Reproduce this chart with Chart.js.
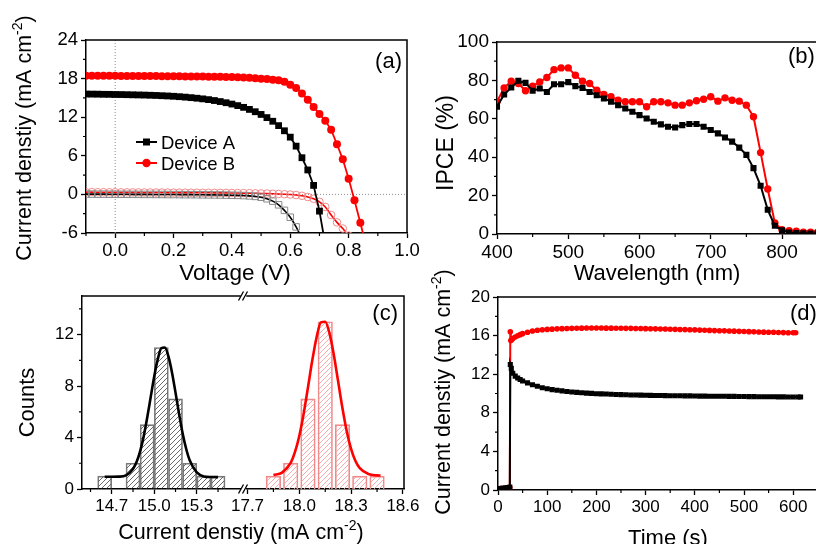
<!DOCTYPE html>
<html>
<head>
<meta charset="utf-8">
<title>Device A / Device B</title>
<script src="https://cdn.jsdelivr.net/npm/chart.js@4.4.1/dist/chart.umd.min.js"></script>
<style>
html, body { margin:0; padding:0; width:816px; height:544px; overflow:hidden; background:#fff; position:relative; }
canvas { position:absolute; display:block; }
#ca { left:0; top:0; }
#cb { left:420px; top:0; }
#cc1 { left:0; top:280px; }
#cc2 { left:213px; top:280px; }
#cd { left:420px; top:250px; }
</style>
</head>
<body>
<canvas id="ca" width="430" height="285"></canvas>
<canvas id="cb" width="480" height="285"></canvas>
<canvas id="cc1" width="420" height="264"></canvas>
<canvas id="cc2" width="227" height="264"></canvas>
<canvas id="cd" width="480" height="294"></canvas>
<script>
// ================= DATA =================
const seriesNames = ['Device A', 'Device B'];

// (a) J-V curves
const jvVoltA = [-0.10,-0.08,-0.06,-0.04,-0.02,0.00,0.02,0.04,0.06,0.08,0.10,0.12,0.14,0.16,0.18,0.20,0.22,0.24,0.26,0.28,0.30,0.32,0.34,0.36,0.38,0.40,0.42,0.44,0.46,0.48,0.50,0.52,0.54,0.56,0.58,0.60,0.62,0.64,0.66,0.68,0.70,0.72];
const jvCurA  = [15.60,15.59,15.58,15.56,15.55,15.53,15.52,15.50,15.48,15.46,15.44,15.41,15.38,15.34,15.30,15.25,15.19,15.12,15.04,14.95,14.85,14.73,14.59,14.43,14.25,14.04,13.80,13.53,13.21,12.85,12.43,11.94,11.37,10.69,9.89,8.90,7.50,5.70,3.80,1.40,-2.60,-7.80];
const jvVoltB = [-0.10,-0.08,-0.06,-0.04,-0.02,0.00,0.02,0.04,0.06,0.08,0.10,0.12,0.14,0.16,0.18,0.20,0.22,0.24,0.26,0.28,0.30,0.32,0.34,0.36,0.38,0.40,0.42,0.44,0.46,0.48,0.50,0.52,0.54,0.56,0.58,0.60,0.62,0.64,0.66,0.68,0.70,0.72,0.74,0.76,0.78,0.80,0.82,0.84,0.86];
const jvCurB  = [18.45,18.45,18.44,18.44,18.43,18.43,18.42,18.42,18.41,18.41,18.40,18.40,18.39,18.38,18.37,18.36,18.35,18.34,18.33,18.32,18.31,18.30,18.29,18.28,18.26,18.24,18.21,18.17,18.12,18.06,17.99,17.92,17.84,17.74,17.50,17.05,16.55,15.70,14.70,13.60,12.50,11.45,10.05,7.80,5.45,2.45,-0.90,-4.40,-8.00];
const darkVoltA = [-0.10,-0.08,-0.06,-0.04,-0.02,0.00,0.02,0.04,0.06,0.08,0.10,0.12,0.14,0.16,0.18,0.20,0.22,0.24,0.26,0.28,0.30,0.32,0.34,0.36,0.38,0.40,0.42,0.44,0.46,0.48,0.50,0.52,0.54,0.56,0.58,0.60,0.62,0.64];
const darkCurA  = [0.05,0.05,0.04,0.04,0.03,0.03,0.02,0.02,0.01,0.01,0.00,0.00,-0.01,-0.01,-0.02,-0.02,-0.03,-0.04,-0.04,-0.05,-0.06,-0.07,-0.08,-0.09,-0.11,-0.13,-0.15,-0.18,-0.23,-0.31,-0.44,-0.68,-1.05,-1.62,-2.48,-3.55,-5.05,-6.85];
const darkVoltB = [-0.10,-0.08,-0.06,-0.04,-0.02,0.00,0.02,0.04,0.06,0.08,0.10,0.12,0.14,0.16,0.18,0.20,0.22,0.24,0.26,0.28,0.30,0.32,0.34,0.36,0.38,0.40,0.42,0.44,0.46,0.48,0.50,0.52,0.54,0.56,0.58,0.60,0.62,0.64,0.66,0.68,0.70,0.72,0.74,0.76,0.78,0.80];
const darkCurB  = [0.35,0.35,0.34,0.34,0.33,0.33,0.32,0.32,0.31,0.31,0.30,0.30,0.29,0.29,0.28,0.28,0.27,0.27,0.26,0.26,0.25,0.25,0.24,0.24,0.23,0.22,0.21,0.20,0.19,0.17,0.15,0.13,0.10,0.07,0.03,-0.02,-0.10,-0.22,-0.40,-0.68,-1.15,-1.95,-3.20,-4.35,-5.30,-6.40];
const aXTicks = [0, 0.2, 0.4, 0.6, 0.8, 1.0];
const aXMinor = [-0.1, 0.1, 0.3, 0.5, 0.7, 0.9];
const aYTicks = [-6, 0, 6, 12, 18, 24];
const aYMinor = [-3, 3, 9, 15, 21];

// (b) IPCE
const ipceWave = [400,410,420,430,440,450,460,470,480,490,500,510,520,530,540,550,560,570,580,590,600,610,620,630,640,650,660,670,680,690,700,710,720,730,740,750,760,770,780,790,800,810,820,830,840,850];
const ipceA = [66.3,72.7,76.3,79.8,78.7,74.6,75.8,74.0,78.0,78.0,79.1,77.0,76.1,74.0,72.3,70.6,68.9,67.1,65.4,63.7,61.9,60.2,58.5,57.1,55.9,55.5,56.7,57.3,57.3,55.9,54.2,52.4,50.3,48.1,45.0,41.2,34.3,25.1,12.6,4.3,1.9,0.8,0.5,0.4,0.3,0.3];
const ipceB = [68.9,76.1,79.6,78.4,74.6,77.0,79.2,81.5,85.6,86.5,86.5,82.7,79.6,78.4,74.9,72.7,71.5,69.7,68.9,68.9,68.9,66.3,68.9,68.9,68.3,67.1,67.1,68.3,69.4,70.2,71.5,69.2,70.9,69.7,69.2,67.1,61.1,42.4,23.4,5.7,2.2,1.7,1.4,1.0,1.0,1.0];
const bXTicks = [400, 500, 600, 700, 800, 900];
const bXMinor = [450, 550, 650, 750, 850];
const bYTicks = [0, 20, 40, 60, 80, 100];
const bYMinor = [10, 30, 50, 70, 90];

// (c) histograms of current density
const histBinA = [14.65,14.85,14.95,15.05,15.15,15.25,15.35,15.45];
const histCountA = [1,2,5,11,7,2,1,1];
const histBinB = [17.85,17.95,18.05,18.15,18.25,18.35,18.45];
const histCountB = [1,2,7,13,5,1,1];
const fitXA = [14.65,14.70,14.75,14.80,14.85,14.875,14.90,14.925,14.95,14.975,15.00,15.025,15.05,15.075,15.10,15.125,15.15,15.175,15.20,15.225,15.25,15.30,15.35,15.40,15.45];
const fitYA = [0.95,0.95,0.96,1.06,1.56,2.09,2.92,4.07,5.53,7.16,8.77,10.09,10.95,11.0,10.30,9.06,7.49,5.84,4.34,3.13,2.24,1.29,0.98,0.93,0.92];
const fitXB = [17.85,17.90,17.95,17.975,18.00,18.025,18.05,18.075,18.10,18.125,18.15,18.175,18.20,18.225,18.25,18.275,18.30,18.325,18.35,18.40,18.45,18.47];
const fitYB = [1.09,1.27,2.03,2.88,4.14,5.85,7.90,10.0,11.8,12.95,13.0,12.07,10.4,8.33,6.25,4.45,3.10,2.17,1.62,1.16,1.06,1.05];
const cXTicksA = [14.7, 15.0, 15.3];
const cXMinorA = [14.55, 14.85, 15.15, 15.45];
const cXTicksB = [17.7, 18.0, 18.3, 18.6];
const cXMinorB = [17.85, 18.15, 18.45];
const cYTicks = [0, 4, 8, 12];
const cYMinor = [2, 6, 10, 14];

// (d) current density vs time
const dTimeA = [0,5,10,15,20,24,25,27,30,35,40,45,50,60,70,80,90,100,110,120,130,140,150,160,170,180,190,200,210,220,230,240,250,260,270,280,290,300,310,320,330,340,350,360,370,380,390,400,410,420,430,440,450,460,470,480,490,500,510,520,530,540,550,560,570,580,590,600,610,615];
const dCurA = [0.15,0.15,0.2,0.2,0.25,0.3,13.0,12.6,12.1,11.8,11.6,11.45,11.3,11.1,10.9,10.75,10.6,10.5,10.4,10.33,10.27,10.21,10.16,10.12,10.08,10.04,10.01,9.98,9.96,9.94,9.92,9.9,9.88,9.87,9.85,9.84,9.83,9.82,9.81,9.8,9.79,9.78,9.77,9.77,9.76,9.75,9.75,9.74,9.73,9.73,9.72,9.72,9.71,9.71,9.7,9.7,9.69,9.69,9.68,9.68,9.67,9.67,9.66,9.66,9.65,9.65,9.64,9.64,9.63,9.63];
const dTimeB = [0,5,10,15,20,24,25,26,28,30,35,40,45,50,60,70,80,90,100,110,120,130,140,150,160,170,180,190,200,210,220,230,240,250,260,270,280,290,300,310,320,330,340,350,360,370,380,390,400,410,420,430,440,450,460,470,480,490,500,510,520,530,540,550,560,570,580,590,600,605];
const dCurB = [0.1,0.15,0.15,0.2,0.2,0.25,16.4,15.5,15.6,15.7,15.85,15.98,16.1,16.2,16.35,16.47,16.55,16.6,16.64,16.67,16.7,16.72,16.74,16.75,16.76,16.77,16.78,16.78,16.78,16.78,16.77,16.77,16.76,16.76,16.75,16.75,16.74,16.73,16.72,16.71,16.7,16.69,16.68,16.66,16.65,16.63,16.62,16.6,16.59,16.57,16.56,16.54,16.52,16.51,16.49,16.47,16.46,16.44,16.42,16.41,16.39,16.38,16.36,16.35,16.34,16.32,16.31,16.3,16.29,16.29];
const dXTicks = [0, 100, 200, 300, 400, 500, 600, 700];
const dXMinor = [50, 150, 250, 350, 450, 550, 650];
const dYTicks = [0, 4, 8, 12, 16, 20];
const dYMinor = [2, 6, 10, 14, 18];

// ================= HELPERS =================
const FONT = '"Liberation Sans", Arial, Helvetica, sans-serif';
const RED = '#ff0000';
const zip = (xs, ys) => xs.map((x, i) => ({ x: x, y: ys[i] }));

function axis(o) {
  return {
    type: 'linear', min: o.min, max: o.max, display: o.display !== false, offset: false,
    afterBuildTicks: s => { s.ticks = o.ticks.map(v => ({ value: v })); },
    afterFit: s => { if (o.size != null) { if (s.isHorizontal()) s.height = o.size; else s.width = o.size; } },
    grid: { offset: false, drawOnChartArea: false, drawTicks: true, tickLength: 5, tickColor: '#000', tickWidth: 1.3 },
    border: { display: true, color: '#000', width: 1.5 },
    ticks: { color: '#000', font: { family: FONT, size: o.font }, padding: o.pad != null ? o.pad : 2,
             maxRotation: 0, minRotation: 0, autoSkip: false, callback: o.fmt || (v => String(v)) }
  };
}

function drawRich(ctx, t) {
  ctx.save();
  ctx.translate(t.x, t.y);
  if (t.rot) ctx.rotate(t.rot);
  const size = t.size, sup = Math.round(size * 0.64);
  const widths = t.parts.map(p => { ctx.font = (p.sup ? sup : size) + 'px ' + FONT; return ctx.measureText(p.s).width; });
  const total = widths.reduce((a, b) => a + b, 0);
  let x0 = t.align === 'left' ? 0 : (t.align === 'right' ? -total : -total / 2);
  ctx.fillStyle = '#000'; ctx.textAlign = 'left'; ctx.textBaseline = 'alphabetic';
  const base = size * 0.36;
  t.parts.forEach((p, i) => {
    ctx.font = (p.sup ? sup : size) + 'px ' + FONT;
    ctx.fillText(p.s, x0, base - (p.sup ? size * 0.42 : 0));
    x0 += widths[i];
  });
  ctx.restore();
}

function decor(cfg) {
  return {
    id: 'decor',
    afterDraw(chart) {
      const ctx = chart.ctx, a = chart.chartArea;
      ctx.save();
      ctx.strokeStyle = '#000'; ctx.lineWidth = 1.5; ctx.lineCap = 'butt';
      ctx.beginPath();
      const f = cfg.frame || '';
      if (f.includes('t')) { ctx.moveTo(a.left - 0.75, a.top); ctx.lineTo(a.right + 0.75, a.top); }
      if (f.includes('r')) { ctx.moveTo(a.right, a.top); ctx.lineTo(a.right, a.bottom); }
      ctx.stroke();
      ctx.lineWidth = 1.2;
      ctx.beginPath();
      if (cfg.minorX) {
        const s = chart.scales.x;
        cfg.minorX.forEach(v => { const p = s.getPixelForValue(v); if (p < a.left - 0.5 || p > a.right + 0.5) return; ctx.moveTo(p, a.bottom); ctx.lineTo(p, a.bottom + 3); });
      }
      if (cfg.minorY) {
        const s = chart.scales.y;
        cfg.minorY.forEach(v => { const p = s.getPixelForValue(v); ctx.moveTo(a.left, p); ctx.lineTo(a.left - 3, p); });
      }
      ctx.stroke();
      (cfg.texts || []).forEach(t => drawRich(ctx, t));
      if (cfg.extra) cfg.extra(chart, ctx);
      ctx.restore();
    }
  };
}

function baseOptions(padding) {
  return {
    responsive: false, maintainAspectRatio: false, animation: false, devicePixelRatio: 1, events: [],
    layout: { padding: padding },
    plugins: { legend: { display: false }, tooltip: { enabled: false } }
  };
}

function hatch(ctx, color) {
  const n = 5, c = document.createElement('canvas');
  c.width = n; c.height = n;
  const g = c.getContext('2d');
  g.strokeStyle = color; g.lineWidth = 0.9;
  g.beginPath();
  g.moveTo(0, n); g.lineTo(n, 0);
  g.moveTo(-1, 1); g.lineTo(1, -1);
  g.moveTo(n - 1, n + 1); g.lineTo(n + 1, n - 1);
  g.stroke();
  return ctx.createPattern(c, 'repeat');
}

const yTitleParts = [{ s: 'Current denstiy (mA cm' }, { s: '-2', sup: true }, { s: ')' }];

// ================= (a) =================
(function () {
  const opts = baseOptions({ left: 26, right: 23, top: 40, bottom: 22 });
  opts.scales = {
    x: axis({ min: -0.1, max: 1.0, ticks: aXTicks, size: 30, font: 18.5, fmt: v => v.toFixed(1) }),
    y: axis({ min: -6, max: 24, ticks: aYTicks, size: 60, font: 18.5, pad: 3 })
  };
  const legend = (chart, ctx) => {
    const items = [{ c: '#000', sq: true, y: 142 }, { c: RED, sq: false, y: 163 }];
    items.forEach((it, i) => {
      ctx.strokeStyle = it.c; ctx.fillStyle = it.c; ctx.lineWidth = 2;
      ctx.beginPath(); ctx.moveTo(136, it.y); ctx.lineTo(157, it.y); ctx.stroke();
      if (it.sq) ctx.fillRect(143, it.y - 3.5, 7, 7);
      else { ctx.beginPath(); ctx.arc(146.5, it.y, 4.2, 0, Math.PI * 2); ctx.fill(); }
      drawRich(ctx, { parts: [{ s: seriesNames[i] }], x: 161, y: it.y, size: 18.5, align: 'left' });
    });
  };
  new Chart(document.getElementById('ca'), {
    type: 'line',
    data: {
      datasets: [
        { data: zip(jvVoltA, jvCurA), borderColor: '#000', borderWidth: 1.8, pointStyle: 'rect', pointRadius: 4.8,
          pointBackgroundColor: '#000', pointBorderColor: '#000', pointBorderWidth: 0 },
        { data: zip(jvVoltB, jvCurB), borderColor: RED, borderWidth: 1.8, pointStyle: 'circle', pointRadius: 4,
          pointBackgroundColor: RED, pointBorderColor: RED, pointBorderWidth: 0 },
        { data: zip(darkVoltA, darkCurA), borderColor: '#000', borderWidth: 1.6, pointStyle: 'rect', pointRadius: 4.6,
          pointBackgroundColor: 'rgba(0,0,0,0)', pointBorderColor: '#8a8a8a', pointBorderWidth: 1, cubicInterpolationMode: 'monotone' },
        { data: zip(darkVoltB, darkCurB), borderColor: RED, borderWidth: 1.6, pointStyle: 'circle', pointRadius: 3.8,
          pointBackgroundColor: 'rgba(0,0,0,0)', pointBorderColor: '#f08a8a', pointBorderWidth: 1, cubicInterpolationMode: 'monotone' },
        { data: [{ x: 0, y: -6 }, { x: 0, y: 24 }], borderColor: '#8c8c8c', borderWidth: 1, borderDash: [1, 2], pointRadius: 0 },
        { data: [{ x: -0.1, y: 0 }, { x: 1.0, y: 0 }], borderColor: '#8c8c8c', borderWidth: 1, borderDash: [1, 2], pointRadius: 0 }
      ]
    },
    options: opts,
    plugins: [decor({
      frame: 'tr', minorX: aXMinor, minorY: aYMinor,
      texts: [
        { parts: yTitleParts, x: 23, y: 138, size: 21.5, rot: -Math.PI / 2 },
        { parts: [{ s: 'Voltage (V)' }], x: 235, y: 272, size: 22.5 },
        { parts: [{ s: '(a)' }], x: 402, y: 60, size: 22, align: 'right' }
      ],
      extra: legend
    })]
  });
})();

// ================= (b) =================
(function () {
  const opts = baseOptions({ left: 27, right: 46.75, top: 42, bottom: 21 });
  opts.scales = {
    x: axis({ min: 400, max: 900, ticks: bXTicks, size: 30, font: 19 }),
    y: axis({ min: 0, max: 100, ticks: bYTicks, size: 50, font: 19, pad: 3 })
  };
  new Chart(document.getElementById('cb'), {
    type: 'line',
    data: {
      datasets: [
        { data: zip(ipceWave, ipceA), borderColor: '#000', borderWidth: 2, pointStyle: 'rect', pointRadius: 4.3,
          pointBackgroundColor: '#000', pointBorderColor: '#000', pointBorderWidth: 0 },
        { data: zip(ipceWave, ipceB), borderColor: RED, borderWidth: 2, pointStyle: 'circle', pointRadius: 3.7,
          pointBackgroundColor: RED, pointBorderColor: RED, pointBorderWidth: 0 }
      ]
    },
    options: opts,
    plugins: [decor({
      frame: 'tr', minorX: bXMinor, minorY: bYMinor,
      texts: [
        { parts: [{ s: 'IPCE (%)' }], x: 25, y: 143, size: 23, rot: -Math.PI / 2 },
        { parts: [{ s: 'Wavelength (nm)' }], x: 237, y: 272, size: 22 },
        { parts: [{ s: '(b)' }], x: 368, y: 55, size: 22, align: 'left' }
      ]
    })]
  });
})();

// ================= (c) left =================
(function () {
  const cv = document.getElementById('cc1');
  const ctx = cv.getContext('2d');
  const opts = baseOptions({ left: 32, right: 180, top: 16, bottom: 25 });
  opts.scales = {
    x: axis({ min: 14.49, max: 15.605, ticks: cXTicksA, size: 30, font: 17, fmt: v => v.toFixed(1) }),
    y: axis({ min: 0, max: 15, ticks: cYTicks, size: 50, font: 17, pad: 3 })
  };
  new Chart(cv, {
    type: 'bar',
    data: {
      datasets: [
        { type: 'line', order: 0, data: zip(fitXA, fitYA), borderColor: '#000', borderWidth: 2.6, pointRadius: 0, cubicInterpolationMode: 'monotone' },
        { type: 'bar', order: 1, data: zip(histBinA, histCountA), backgroundColor: hatch(ctx, '#5a5a5a'), borderColor: '#7a7a7a', borderWidth: 1, barThickness: 14 }
      ]
    },
    options: opts,
    plugins: [decor({
      frame: 't', minorX: cXMinorA, minorY: cYMinor,
      texts: [
        { parts: [{ s: 'Counts' }], x: 26, y: 122.5, size: 22, rot: -Math.PI / 2 },
        { parts: yTitleParts, x: 241, y: 251, size: 21.5 },
        { parts: [{ s: '(c)' }], x: 398, y: 32, size: 22, align: 'right' }
      ]
    })]
  });
})();

// ================= (c) right =================
(function () {
  const cv = document.getElementById('cc2');
  const ctx = cv.getContext('2d');
  const opts = baseOptions({ left: 34, right: 36, top: 16, bottom: 25 });
  const yAx = axis({ min: 0, max: 15, ticks: cYTicks, font: 17 });
  yAx.display = false;
  opts.scales = {
    x: axis({ min: 17.697, max: 18.606, ticks: cXTicksB, size: 30, font: 17, fmt: v => v.toFixed(1) }),
    y: yAx
  };
  const breaks = (chart, c) => {
    const a = chart.chartArea;
    c.strokeStyle = '#000'; c.lineWidth = 1.3;
    c.beginPath();
    [a.top, a.bottom].forEach(y => {
      [a.left - 6, a.left - 2].forEach(cx => { c.moveTo(cx - 2.5, y + 4.5); c.lineTo(cx + 2.5, y - 4.5); });
    });
    c.stroke();
  };
  new Chart(cv, {
    type: 'bar',
    data: {
      datasets: [
        { type: 'line', order: 0, data: zip(fitXB, fitYB), borderColor: RED, borderWidth: 2.6, pointRadius: 0, cubicInterpolationMode: 'monotone' },
        { type: 'bar', order: 1, data: zip(histBinB, histCountB), backgroundColor: hatch(ctx, '#f4a3a3'), borderColor: '#f08a8a', borderWidth: 1, barThickness: 14.5 }
      ]
    },
    options: opts,
    plugins: [decor({ frame: 'tr', minorX: cXMinorB, extra: breaks })]
  });
})();

// ================= (d) =================
(function () {
  const opts = baseOptions({ left: 28, right: 57.6, top: 47, bottom: 24 });
  opts.scales = {
    x: axis({ min: 0, max: 700, ticks: dXTicks, size: 30, font: 17 }),
    y: axis({ min: 0, max: 20, ticks: dYTicks, size: 50, font: 17, pad: 3 })
  };
  new Chart(document.getElementById('cd'), {
    type: 'line',
    data: {
      datasets: [
        { data: zip(dTimeA, dCurA), borderColor: '#000', borderWidth: 2, pointStyle: 'rect', pointRadius: 3.6,
          pointBackgroundColor: '#000', pointBorderColor: '#000', pointBorderWidth: 0 },
        { data: zip(dTimeB, dCurB), borderColor: RED, borderWidth: 2, pointStyle: 'circle', pointRadius: 2.8,
          pointBackgroundColor: RED, pointBorderColor: RED, pointBorderWidth: 0 }
      ]
    },
    options: opts,
    plugins: [decor({
      frame: 'tr', minorX: dXMinor, minorY: dYMinor,
      texts: [
        { parts: yTitleParts, x: 22, y: 142, size: 21.5, rot: -Math.PI / 2 },
        { parts: [{ s: 'Time (s)' }], x: 248, y: 287, size: 22 },
        { parts: [{ s: '(d)' }], x: 370, y: 62, size: 22, align: 'left' }
      ]
    })]
  });
})();
</script>
</body>
</html>
